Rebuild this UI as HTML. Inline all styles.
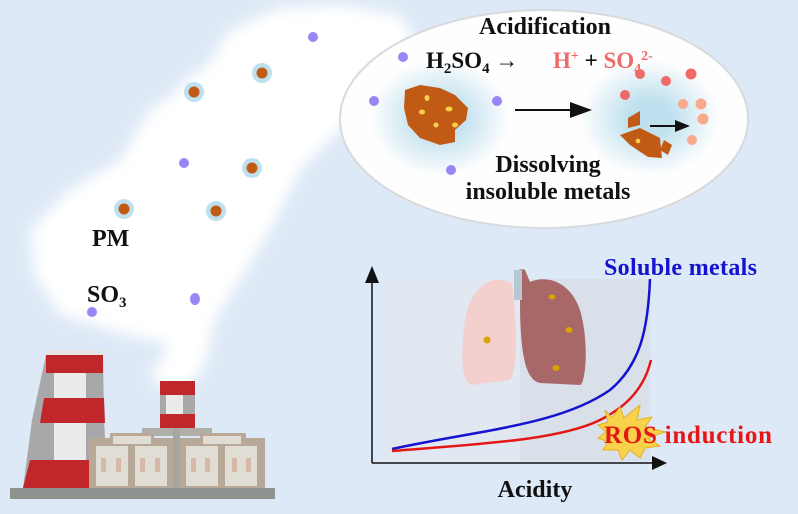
<!DOCTYPE html>
<html><head><style>
body{margin:0;background:#dde9f6;}
svg{display:block}
text{font-family:"Liberation Serif",serif;font-weight:bold}
</style></head><body>
<svg width="798" height="514" viewBox="0 0 798 514" xmlns="http://www.w3.org/2000/svg">
<defs>
<filter id="b8" x="-30%" y="-30%" width="160%" height="160%"><feGaussianBlur stdDeviation="7"/></filter>
<radialGradient id="halo"><stop offset="0.3" stop-color="#bfe0ee"/><stop offset="1" stop-color="#bfe0ee" stop-opacity="0"/></radialGradient>
</defs>
<rect width="798" height="514" fill="#dde9f6"/>
<!-- smoke -->
<g filter="url(#b8)" fill="#ffffff">
<polygon points="30,230 70,190 120,160 150,110 200,75 230,30 280,8 340,5 400,15 420,50 380,90 340,130 300,170 270,230 240,280 215,320 185,345 150,340 110,330 60,315 35,275"/>
<polygon points="150,380 170,340 215,320 205,365 180,395"/>
<ellipse cx="110" cy="260" rx="70" ry="55"/>
<ellipse cx="250" cy="110" rx="80" ry="50"/>
</g>
<!-- ellipse -->
<ellipse cx="544" cy="119" rx="204" ry="109" fill="#fefefe" stroke="#d8dadc" stroke-width="2"/>
<ellipse cx="440" cy="118" rx="70" ry="58" fill="url(#halo)"/>
<ellipse cx="650" cy="118" rx="70" ry="58" fill="url(#halo)"/>
<text x="545" y="34" font-size="24" text-anchor="middle" fill="#111">Acidification</text>
<text x="426" y="68" font-size="23" fill="#111">H<tspan font-size="15" dy="5">2</tspan><tspan dy="-5">SO</tspan><tspan font-size="15" dy="5">4</tspan><tspan dy="-5"> →</tspan></text>
<text x="553" y="68" font-size="23" fill="#f06a6a">H<tspan font-size="14" dy="-8">+</tspan><tspan dy="8" fill="#111"> + </tspan>SO<tspan font-size="14" dy="5">4</tspan><tspan font-size="14" dy="-13">2-</tspan></text>
<text x="548" y="172" font-size="24" text-anchor="middle" fill="#111">Dissolving</text>
<text x="548" y="199" font-size="24" text-anchor="middle" fill="#111">insoluble metals</text>
<path d="M405,90 L420,85 L440,88 L455,95 L468,108 L466,120 L455,130 L455,142 L440,145 L420,138 L408,125 L404,108Z" fill="#c05a14"/>
<g fill="#f6d04e"><ellipse cx="427" cy="98" rx="2.5" ry="3"/><ellipse cx="449" cy="109" rx="3.5" ry="2.5"/><ellipse cx="422" cy="112" rx="3" ry="2.5"/><ellipse cx="436" cy="125" rx="2.5" ry="2.5"/><ellipse cx="455" cy="125" rx="3" ry="2.5"/></g>
<line x1="515" y1="110" x2="570" y2="110" stroke="#111" stroke-width="2"/><polygon points="592,110 570,102 570,118" fill="#111"/>
<path d="M628,118 L640,111 L640,125 L628,128Z M620,135 L640,128 L660,138 L662,158 L648,157 L630,145Z M664,140 L672,145 L668,155 L660,150Z" fill="#c05a14"/>
<circle cx="638" cy="141" r="2.3" fill="#f6d04e"/>
<line x1="650" y1="126" x2="675" y2="126" stroke="#111" stroke-width="2"/><polygon points="690,126 675,120 675,132" fill="#111"/>
<g fill="#f06a6a"><circle cx="640" cy="74" r="5"/><circle cx="666" cy="81" r="5"/><circle cx="691" cy="74" r="5.5"/><circle cx="625" cy="95" r="5"/></g>
<g fill="#f8a98c"><circle cx="683" cy="104" r="5"/><circle cx="701" cy="104" r="5.5"/><circle cx="703" cy="119" r="5.5"/><circle cx="692" cy="140" r="5"/></g>
<!-- particles -->
<g fill="#9a85f5"><ellipse cx="313" cy="37" rx="5" ry="5"/><circle cx="184" cy="163" r="5"/><ellipse cx="195" cy="299" rx="5" ry="6"/><circle cx="92" cy="312" r="5"/><circle cx="403" cy="57" r="5"/><circle cx="374" cy="101" r="5"/><circle cx="497" cy="101" r="5"/><circle cx="451" cy="170" r="5"/></g>
<g><circle cx="262" cy="73" r="10" fill="#bfe0ee"/><circle cx="262" cy="73" r="5.5" fill="#c05a14"/>
<circle cx="194" cy="92" r="10" fill="#bfe0ee"/><circle cx="194" cy="92" r="5.5" fill="#c05a14"/>
<circle cx="252" cy="168" r="10" fill="#bfe0ee"/><circle cx="252" cy="168" r="5.5" fill="#c05a14"/>
<circle cx="124" cy="209" r="10" fill="#bfe0ee"/><circle cx="124" cy="209" r="5.5" fill="#c05a14"/>
<circle cx="216" cy="211" r="10" fill="#bfe0ee"/><circle cx="216" cy="211" r="5.5" fill="#c05a14"/></g>
<text x="92" y="246" font-size="24" fill="#111">PM</text>
<text x="87" y="302" font-size="24" fill="#111">SO<tspan font-size="15" dy="5">3</tspan></text>
<!-- factory -->
<rect x="10" y="488" width="265" height="11" fill="#8f9390"/>
<polygon points="46,355 103,355 104,420 108,488 23,488 32,420" fill="#a8a8aa"/>
<polygon points="46,355 103,355 103,373 46,373" fill="#c0272a"/>
<polygon points="44,398 104,398 105,423 40,423" fill="#c0272a"/>
<polygon points="30,460 108,460 108,488 23,488" fill="#c0272a"/>
<rect x="54" y="373" width="32" height="25" fill="#ecebec"/>
<rect x="54" y="423" width="32" height="37" fill="#ecebec"/>
<rect x="45" y="350" width="59" height="5" fill="#e5e5e5"/>
<rect x="160" y="381" width="35" height="47" fill="#a8a8aa"/>
<rect x="160" y="381" width="35" height="14" fill="#c0272a"/><rect x="160" y="414" width="35" height="14" fill="#c0272a"/>
<rect x="166" y="395" width="17" height="19" fill="#ecebec"/>
<rect x="142" y="428" width="70" height="8" fill="#b0aea8"/>
<rect x="89" y="438" width="176" height="50" fill="#b8a898"/>
<rect x="110" y="433" width="44" height="12" fill="#b8a898"/><rect x="200" y="433" width="46" height="12" fill="#b8a898"/>
<g fill="#e0ddd4"><rect x="96" y="446" width="32" height="40"/><rect x="135" y="446" width="32" height="40"/><rect x="186" y="446" width="32" height="40"/><rect x="225" y="446" width="32" height="40"/><rect x="113" y="436" width="38" height="8"/><rect x="203" y="436" width="38" height="8"/></g>
<rect x="173" y="428" width="7" height="60" fill="#a7a59f"/>
<g fill="#d6b9a8"><rect x="101" y="458" width="5" height="14"/><rect x="116" y="458" width="5" height="14"/><rect x="140" y="458" width="5" height="14"/><rect x="155" y="458" width="5" height="14"/><rect x="191" y="458" width="5" height="14"/><rect x="205" y="458" width="5" height="14"/><rect x="232" y="458" width="5" height="14"/><rect x="246" y="458" width="5" height="14"/></g>
<!-- chart -->
<rect x="385" y="279" width="265" height="182" fill="#e2e8f2"/>
<rect x="520" y="279" width="130" height="182" fill="#d9e0ea"/>
<path d="M520,280 C515,270 520,268 525,270 L530,282 C545,275 570,280 580,310 C590,345 585,385 580,385 L540,383 C527,380 520,360 520,300Z" fill="#a86868"/>
<path d="M514,270 L522,270 L522,300 L514,300Z" fill="#b8c8d2"/>
<path d="M512,284 C495,272 470,285 465,320 C460,360 462,383 472,385 L510,380 C518,370 517,320 512,284Z" fill="#f3cfcd"/>
<g fill="#d9a400"><ellipse cx="552" cy="297" rx="3.5" ry="2.5"/><ellipse cx="569" cy="330" rx="3.5" ry="3"/><ellipse cx="556" cy="368" rx="3.5" ry="3"/><circle cx="487" cy="340" r="3.5"/></g>
<line x1="372" y1="283" x2="372" y2="463" stroke="#111" stroke-width="1.5"/>
<polygon points="372,266 365,283 379,283" fill="#111"/>
<line x1="372" y1="463" x2="652" y2="463" stroke="#111" stroke-width="1.5"/>
<polygon points="667,463 652,456 652,470" fill="#111"/>
<path d="M392,449 C480,430 560,425 610,390 C640,365 648,330 650,279" fill="none" stroke="#1313d0" stroke-width="2.5"/>
<path d="M392,451 C480,444 560,440 600,420 C630,405 645,385 651,360" fill="none" stroke="#e51616" stroke-width="2.5"/>
<polygon points="605,410 612,418 620,407 624,418 640,405 637,420 652,417 645,427 665,432 648,438 660,446 645,448 640,458 630,450 622,460 618,450 603,450 608,442 598,438 606,432 598,425 608,422" fill="#f7d24a" stroke="#e8b020" stroke-width="1"/>
<text x="604" y="443" font-size="25" fill="#e51616" textLength="168">ROS induction</text>
<text x="604" y="275" font-size="24" fill="#1313d0" textLength="153">Soluble metals</text>
<text x="535" y="497" font-size="24" text-anchor="middle" fill="#111">Acidity</text>
</svg>
</body></html>
